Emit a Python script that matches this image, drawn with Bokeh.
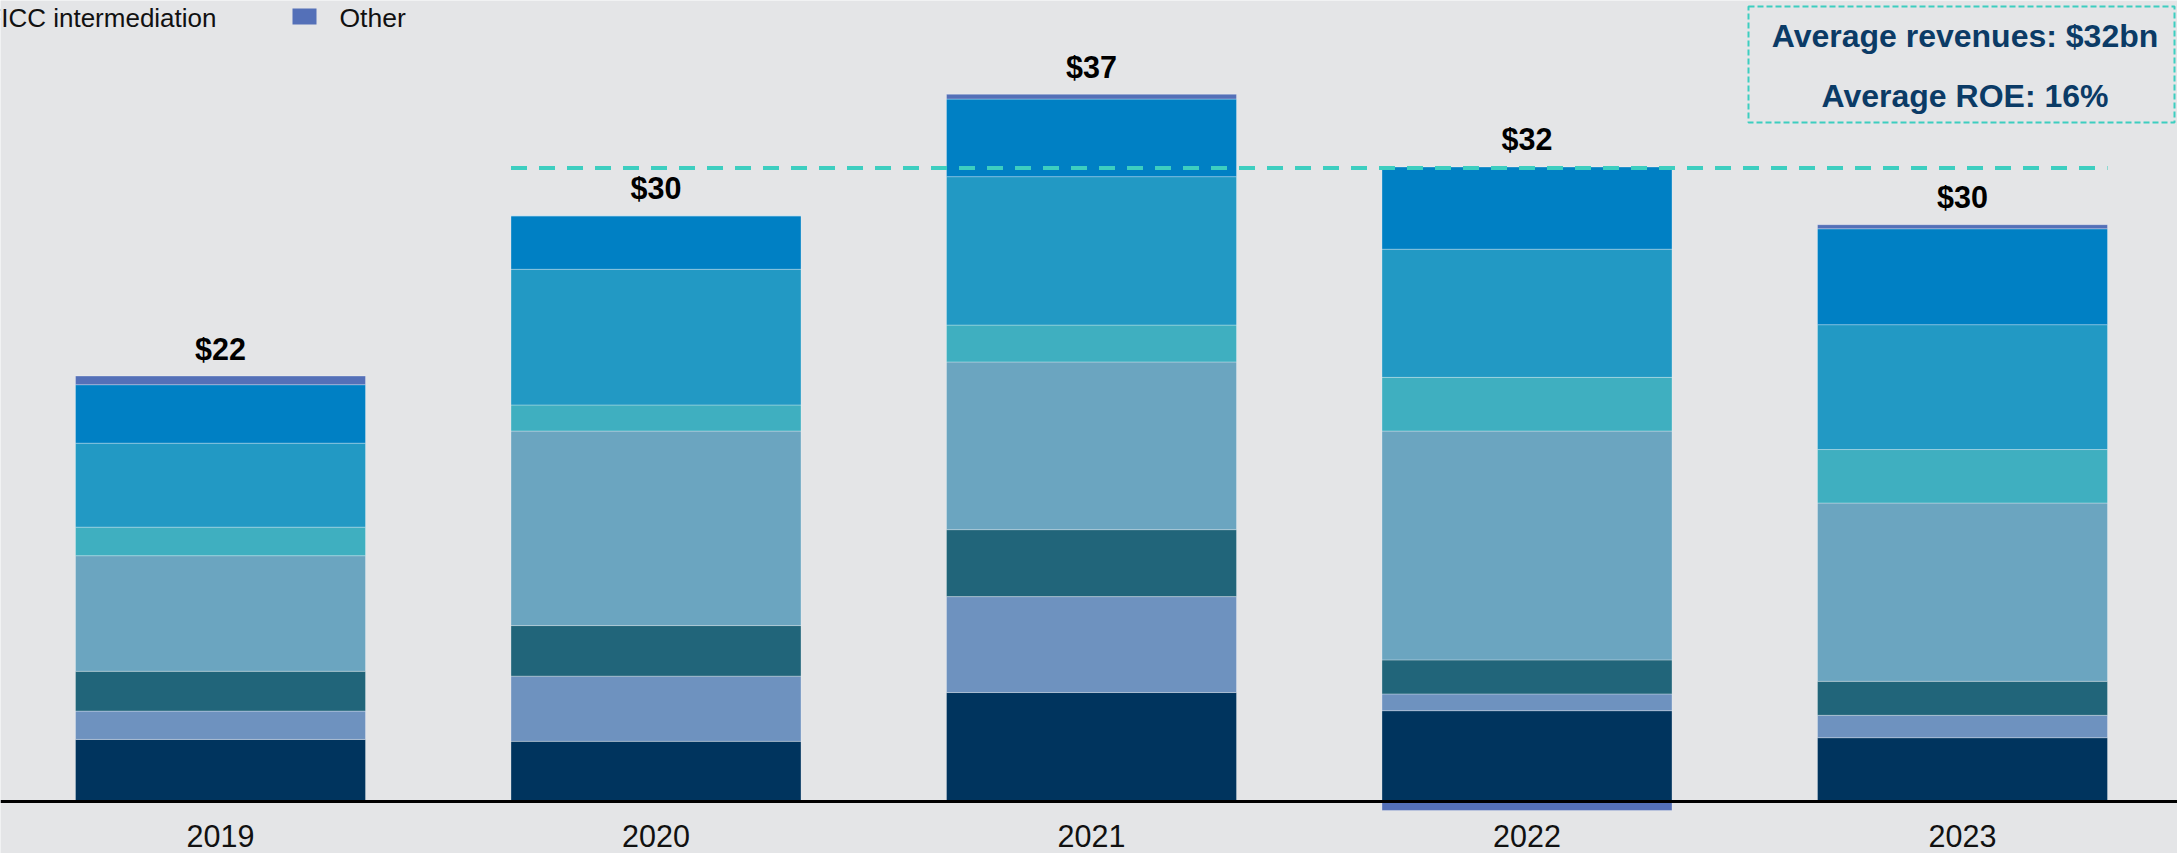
import numpy as np
from bokeh.plotting import figure
from bokeh.models import Range1d, FixedTicker, BoxAnnotation, ColumnDataSource
from bokeh.core.properties import value
from bokeh.embed import file_html
from bokeh.resources import INLINE

# ---------------- data ($bn) ----------------
years = ["2019", "2020", "2021", "2022", "2023"]
advisory = [3.19, 3.09, 5.62, 4.68, 3.28]
equity_underwriting = [1.47, 3.38, 4.97, 0.87, 1.16]
debt_underwriting = [2.06, 2.62, 3.47, 1.76, 1.76]
ficc_intermediation = [5.99, 10.08, 8.69, 11.86, 9.24]
ficc_financing = [1.48, 1.35, 1.91, 2.78, 2.77]
equities_intermediation = [4.35, 7.03, 7.69, 6.64, 6.47]
equities_financing = [3.03, 2.77, 4.02, 4.26, 4.97]
other = [0.45, 0.0, 0.25, -0.49, 0.21]
total_labels = ["$22", "$30", "$37", "$32", "$30"]
average_line_value = 32.8
box_lines = ["Average revenues: $32bn", "Average ROE: 16%"]

series = [
    ("Advisory", advisory, "#00345E"),
    ("Equity underwriting", equity_underwriting, "#6E92BF"),
    ("Debt underwriting", debt_underwriting, "#21657A"),
    ("FICC intermediation", ficc_intermediation, "#6BA5C0"),
    ("FICC financing", ficc_financing, "#3FAFC0"),
    ("Equities intermediation", equities_intermediation, "#2299C4"),
    ("Equities financing", equities_financing, "#0080C4"),
    ("Other", other, "#5470B8"),
]

# ---------------- layout ----------------
W, H = 2177, 853
PX_X = 435.5           # pixels per category
PX_Y = 19.3            # pixels per $bn
BASE = 800.5           # canvas y of zero
X0 = -220.0 / PX_X     # x range start
BAR_W = 0.666
BG = "#E4E5E7"
FONT = "Liberation Sans"


def X(cx):
    return X0 + cx / PX_X


def Y(cy):
    return (BASE - cy) / PX_Y


p = figure(width=W, height=H, output_backend="svg", toolbar_location=None,
           x_range=Range1d(X0, X0 + W / PX_X), y_range=Range1d(Y(H), Y(0)),
           min_border=0, y_axis_location=None,
           background_fill_color=BG, border_fill_color=BG, outline_line_color=None)
p.grid.visible = False

xs = np.arange(len(years))
pos = np.zeros(len(years))
neg = np.zeros(len(years))
for name, vals, col in series:
    v = np.array(vals, dtype=float)
    bottom = np.where(v >= 0, pos, neg + v)
    top = np.where(v >= 0, pos + v, neg)
    pos = np.where(v >= 0, pos + v, pos)
    neg = np.where(v < 0, neg + v, neg)
    src = ColumnDataSource(dict(x=xs, top=top, bottom=bottom))
    p.vbar(x="x", width=BAR_W, top="top", bottom="bottom", source=src,
           fill_color=col, line_color="white", line_alpha=0.3, line_width=1)

# total labels
lbl = ColumnDataSource(dict(x=xs, y=pos + 27.5 / PX_Y, t=total_labels))
p.text(x="x", y="y", text="t", source=lbl, text_align="center",
       text_baseline="alphabetic", text_font=value(FONT), text_font_style="bold",
       text_font_size="30.5px", text_color="#000000")

# average dashed line
p.line(x=[1 - BAR_W / 2, 4 + BAR_W / 2], y=[average_line_value] * 2,
       line_color="#3DCEC0", line_width=4, line_dash="16 12")

# x axis at zero
ax = p.xaxis[0]
ax.fixed_location = 0
ax.ticker = FixedTicker(ticks=list(range(len(years))))
ax.major_label_overrides = {i: y for i, y in enumerate(years)}
ax.axis_line_color = "#000000"
ax.axis_line_width = 3
ax.major_tick_out = 0
ax.major_tick_in = 0
ax.minor_tick_out = 0
ax.minor_tick_in = 0
ax.major_label_standoff = 24
ax.major_label_text_font = FONT
ax.major_label_text_font_size = "30.5px"
ax.major_label_text_color = "#111111"

# legend fragment (top-left, cropped)
p.text(x=[X(216)], y=[Y(17.5)], text=["FICC intermediation"], text_align="right",
       text_baseline="alphabetic", text_font=value(FONT), text_font_size="26px",
       text_color="#111111")
p.quad(left=[X(292)], right=[X(316)], top=[Y(8)], bottom=[Y(24)],
       fill_color=series[-1][2], line_color=None)
p.text(x=[X(339)], y=[Y(17.5)], text=[series[-1][0]], text_align="left",
       text_baseline="alphabetic", text_font=value(FONT), text_font_size="26.5px",
       text_color="#111111")

# summary box
box = BoxAnnotation(left=X(1748), right=X(2174), top=Y(6), bottom=Y(122),
                    fill_alpha=0, line_color="#3DCEC0", line_alpha=1.0,
                    line_width=2, line_dash="6 3")
p.add_layout(box)
p.text(x=[X(1964.5)] * 2, y=[Y(35.5), Y(95)], text=box_lines, text_align="center",
       text_baseline="alphabetic", text_font=value(FONT), text_font_style="bold",
       text_font_size="32px", text_color="#0B3B66")

html = file_html(p, INLINE)
html = html.replace("<head>", "<head><style>html,body{margin:0;padding:0;overflow:hidden}</style>", 1)
open("out.html", "w").write(html)
